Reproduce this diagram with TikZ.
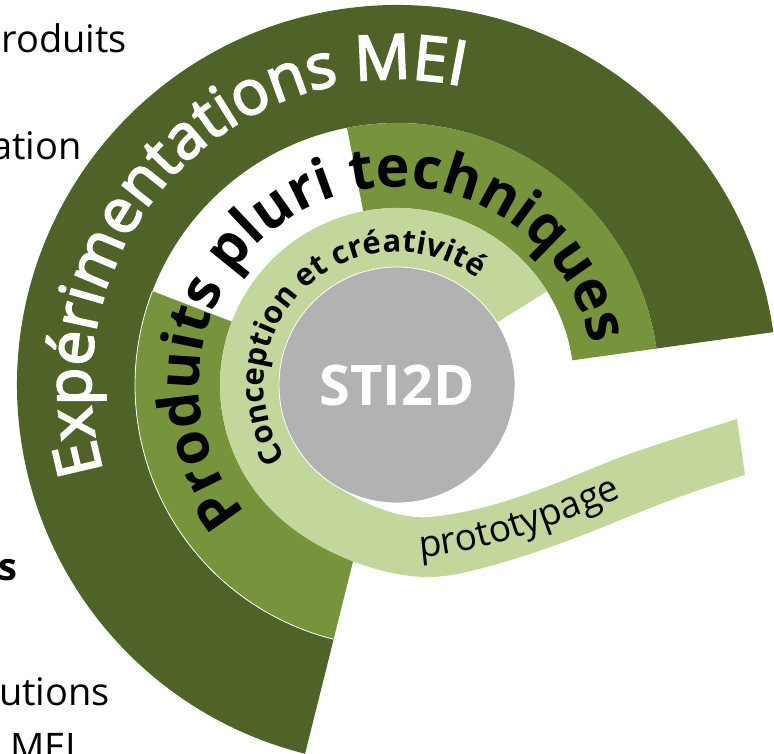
\documentclass[tikz,border=0pt]{standalone}
\usepackage{fontspec}
\setmainfont{Open Sans}
\newfontfamily\semifont[FakeBold=3]{Open Sans}
\usetikzlibrary{decorations.text}
\definecolor{dkgreen}{HTML}{4F6228}
\definecolor{mdgreen}{HTML}{77933C}
\definecolor{ltgreen}{HTML}{C3D69B}
\definecolor{discgrey}{HTML}{B2B2B2}
\tikzset{
  sidetext/.style={inner sep=0pt, font=\fontsize{38}{38}\selectfont},
}
\begin{document}
\begin{tikzpicture}[x=1pt,y=1pt]
\useasboundingbox (0,0) rectangle (774,-753);
\clip (0,0) rectangle (774,-753);
\coordinate (C) at (397,-385);

% outer dark band
\fill[dkgreen, shift={(C)}] (8:380) arc[start angle=8, end angle=256, radius=380]
  -- (256:262) arc[start angle=256, end angle=8, radius=262] -- cycle;
% middle bands
\fill[mdgreen, shift={(C)}] (8:262) arc[start angle=8, end angle=101, radius=262]
  -- (101:177) arc[start angle=101, end angle=8, radius=177] -- cycle;
\fill[mdgreen, shift={(C)}] (159:262) arc[start angle=159, end angle=256, radius=262]
  -- (256:177) arc[start angle=256, end angle=159, radius=177] -- cycle;
\draw[white, line width=0.8pt, shift={(C)}] (159:262) arc[start angle=159, end angle=256, radius=262];

% light band with prototypage tail
\fill[ltgreen] (547.1,-291.2) arc[start angle=32, end angle=225, radius=177]
  .. controls (313,-553) and (385,-578) .. (430,-577)
  .. controls (470,-577) and (560,-545) .. (613,-523)
  .. controls (666,-501) and (700,-489) .. (745,-475)
  -- (737,-419)
  .. controls (690,-434) and (650,-446) .. (613,-460)
  .. controls (560,-481) and (500,-510) .. (430,-517)
  .. controls (395,-520) and (354,-499) .. (329.3,-481.7)
  arc[start angle=235, end angle=32, radius=118] -- cycle;

% central disc
\fill[discgrey, draw=white, line width=0.8pt] (C) circle[radius=118];
\node[font=\fontsize{56}{56}\selectfont\bfseries, text=white, inner sep=0pt] (core) at (397,-385.5) {STI2D};

% texts along paths
\path[shift={(C)}, decorate, decoration={text along path, text align=center,
  text={|\fontsize{62}{62}\semifont\color{white}|Expérimentations MEI}}]
  (207:306) arc[start angle=207, end angle=67, radius=306];
\path[shift={(C)}, decorate, decoration={text along path, text align=center,
  text={|\fontsize{57}{57}\selectfont\bfseries|Produits pluri techniques}}]
  (232:198) arc[start angle=232, end angle=0, radius=198];
\path[shift={(C)}, decorate, decoration={text along path, text align=center,
  text={|\fontsize{31}{31}\selectfont\bfseries|Conception et créativité}}]
  (220:133) arc[start angle=220, end angle=46, radius=133];
\path[decorate, decoration={text along path, text align=left,
  text={|\fontsize{37}{37}\selectfont|prototypage}}]
  (420,-557) .. controls (470,-554) and (530,-536) .. (613,-501)
  .. controls (650,-486) and (690,-473) .. (740,-461);

% clipped side texts
\node[sidetext, anchor=base east] (s1) at (127,-52) {roduits};
\node[sidetext, anchor=base east] (s2) at (82,-159) {ation};
\node[sidetext, anchor=base east, font=\fontsize{38}{38}\selectfont\bfseries] (s3) at (18,-580) {s};
\node[sidetext, anchor=base east] (s4) at (110,-705) {utions};
\node[sidetext, anchor=base west] (s5) at (10,-760) {MEI};
\end{tikzpicture}
\end{document}
